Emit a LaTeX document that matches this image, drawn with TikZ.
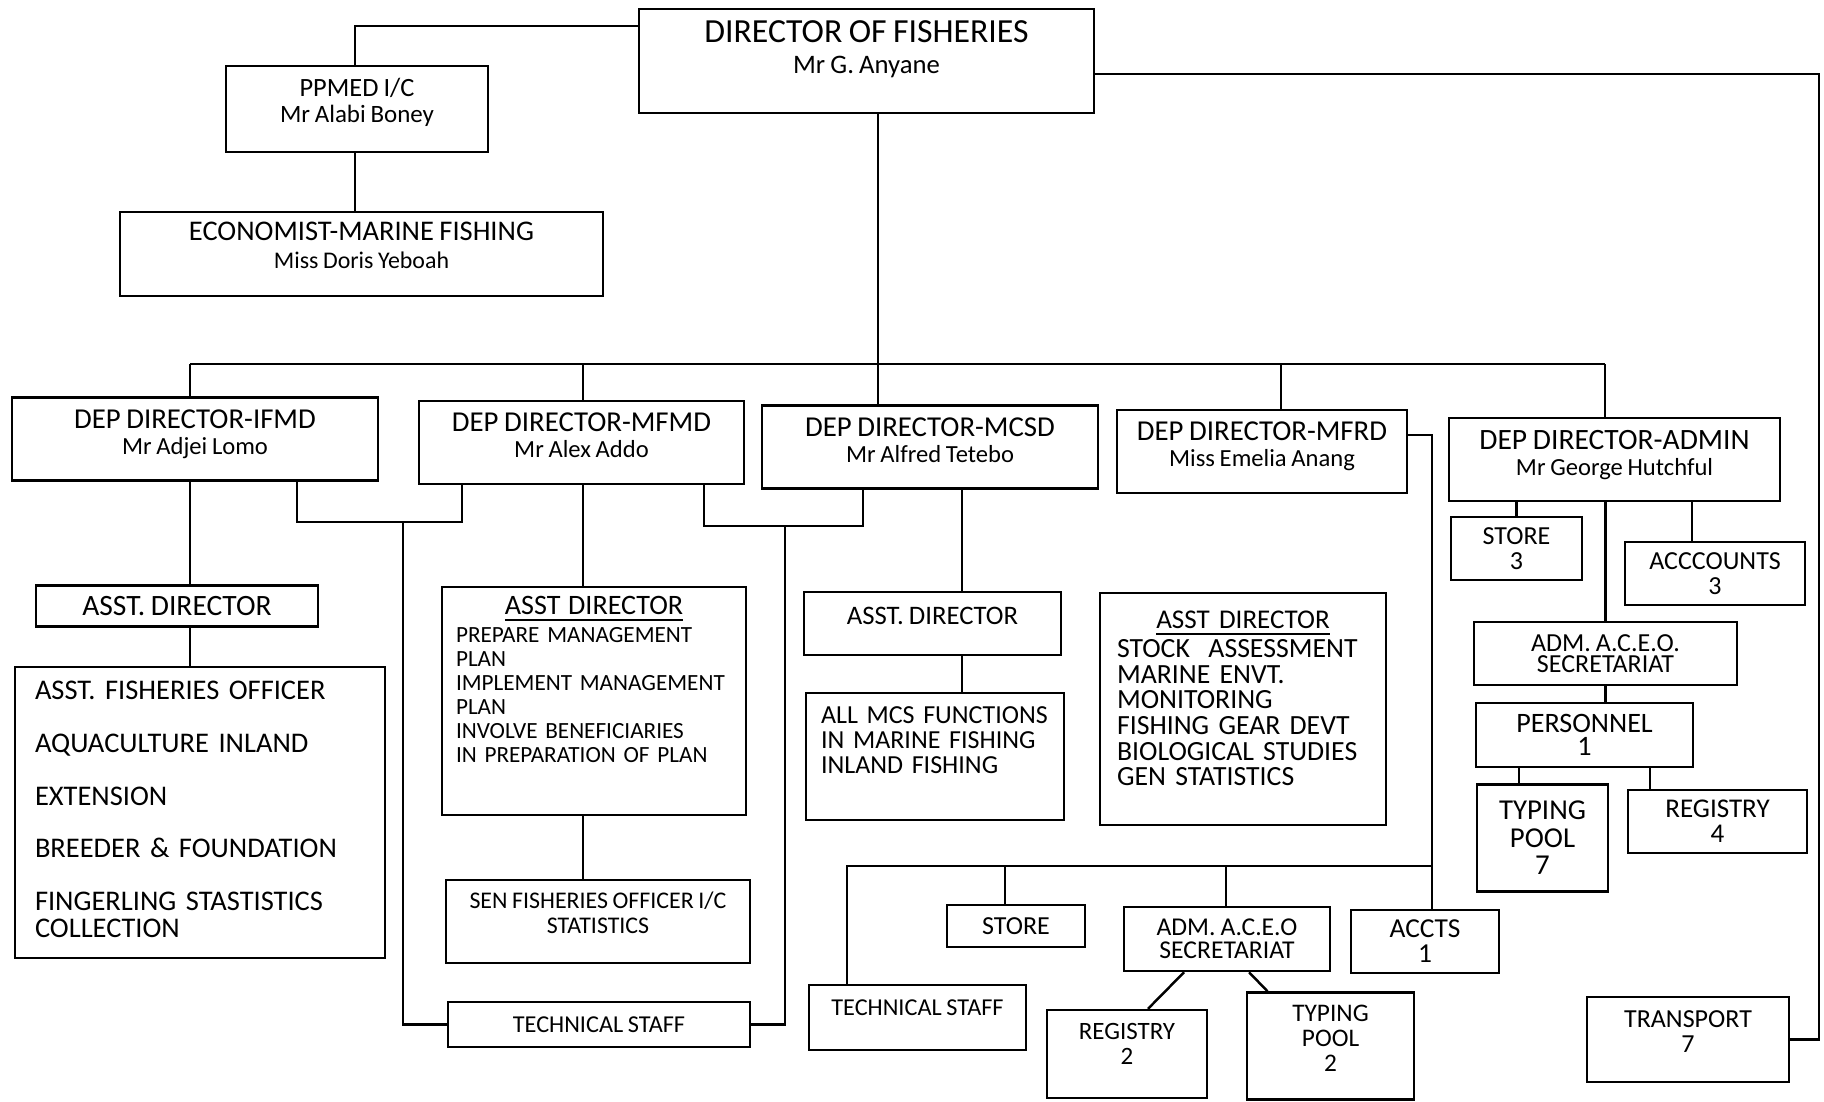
\documentclass[tikz,border=0pt]{standalone}
\usepackage{fontspec}
\setmainfont{Carlito}[WordSpace=0.85]
\newcommand{\fsz}[2]{\fontsize{#1}{#2}\selectfont}
\newcommand{\nm}[1]{{\fsz{7}{7.4}#1}}
\newcommand{\dn}[1]{\rule[-#1]{0pt}{#1}}

\begin{document}
\begin{tikzpicture}[x=0.1mm,y=-0.1mm,line width=0.7pt,
	box/.style={draw,align=center,inner sep=1pt},
	dep/.style={box,minimum height=8.3mm,font=\fsz{8.2}{7.4}},
	sm/.style={box,minimum height=6.3mm,font=\fsz{7.4}{7.1}}]
	\path[use as bounding box,line width=0pt] (0,0) rectangle (1824,1101);
	% director and staff
	\node[box,minimum width=45.5mm,minimum height=10.4mm,font=\fsz{9.6}{8.8}] (dir) at (866.5,61) {DIRECTOR OF FISHERIES\\{\fsz{7.6}{8.8}Mr G. Anyane}\dn{2.7mm}};
	\node[box,minimum width=26.2mm,minimum height=8.6mm,font=\fsz{7.5}{7.4}] (ppmed) at (357,109) {PPMED I/C\\{\fsz{7.1}{7.4}Mr Alabi Boney}\dn{1.7mm}};
	\node[box,minimum width=48.3mm,minimum height=8.4mm,font=\fsz{8.1}{7.9}] (econ) at (361.5,254) {ECONOMIST-MARINE FISHING\\{\fsz{6.8}{7.9}Miss Doris Yeboah}\dn{1.7mm}};
	% deputy directors
	\node[dep,minimum width=36.6mm] (ifmd) at (195,439) {DEP DIRECTOR-IFMD\\\nm{Mr Adjei Lomo}\dn{1.4mm}};
	\node[dep,minimum width=32.5mm] (mfmd) at (581.5,442.5) {DEP DIRECTOR-MFMD\\\nm{Mr Alex Addo}\dn{1.4mm}};
	\node[dep,minimum width=33.6mm] (mcsd) at (930,447) {DEP DIRECTOR-MCSD\\\nm{Mr Alfred Tetebo}\dn{1.4mm}};
	\node[dep,minimum width=29mm] (mfrd) at (1262,451.5) {DEP DIRECTOR-MFRD\\\nm{Miss Emelia Anang}\dn{1.4mm}};
	\node[dep,minimum width=33.1mm,font=\fsz{8.4}{7.4}] (admin) at (1614.5,459.5) {DEP DIRECTOR-ADMIN\\\nm{Mr George Hutchful}\dn{1.4mm}};
	% IFMD
	\node[box,minimum width=28.2mm,minimum height=4.1mm,font=\fsz{8.4}{8}] (ifad) at (177,606) {ASST. DIRECTOR};
	\node[box,align=left,text width=33mm,inner xsep=2mm,minimum height=29.1mm,font=\fsz{8.1}{7.5}] (iflist) at (200,812.5) {ASST. FISHERIES OFFICER\\[2.65mm] AQUACULTURE INLAND\\[2.65mm] EXTENSION\\[2.65mm] BREEDER \& FOUNDATION\\[2.65mm] FINGERLING STASTISTICS\\ COLLECTION\dn{0.7mm}};
	% MFMD
	\node[box,align=left,text width=27.6mm,inner xsep=1.4mm,minimum height=22.8mm,font=\fsz{6.6}{6.8}] (mfad) at (594,701) {\makebox[\linewidth]{\fsz{8}{6.8}\underline{ASST DIRECTOR}}\\[0.4mm] PREPARE MANAGEMENT\\ PLAN\\ IMPLEMENT MANAGEMENT\\ PLAN\\ INVOLVE BENEFICIARIES\\ IN PREPARATION OF PLAN\dn{4.3mm}};
	\node[box,minimum width=30.4mm,minimum height=8.3mm,font=\fsz{6.8}{7.1}] (senfo) at (598,921.5) {SEN FISHERIES OFFICER I/C\\STATISTICS\dn{1.8mm}};
	\node[box,minimum width=30.2mm,minimum height=4.5mm,font=\fsz{6.9}{7}] (techl) at (599,1024.5) {TECHNICAL STAFF};
	% MCSD
	\node[box,minimum width=25.7mm,minimum height=6.3mm,font=\fsz{7.6}{7}] (mcad) at (932.5,623.5) {ASST. DIRECTOR\dn{1.5mm}};
	\node[box,align=left,text width=22.8mm,inner xsep=1.5mm,minimum height=12.7mm,font=\fsz{7.4}{7.1}] (mcfn) at (935,756.5) {ALL MCS FUNCTIONS\\IN MARINE FISHING\\INLAND FISHING\dn{3.3mm}};
	% MFRD
	\node[box,align=left,text width=25.2mm,inner xsep=1.7mm,minimum height=23.2mm,font=\fsz{7.9}{7.3}] (mrad) at (1243,709) {\makebox[\linewidth]{\fsz{7.7}{7.3}\underline{ASST DIRECTOR}}\\[0.3mm]STOCK\ \ ASSESSMENT\\MARINE ENVT.\\MONITORING\\FISHING GEAR DEVT\\BIOLOGICAL STUDIES\\GEN STATISTICS\dn{2.1mm}};
	\node[box,minimum width=21.7mm,minimum height=6.5mm,font=\fsz{6.9}{7}] (techm) at (917.5,1017.5) {TECHNICAL STAFF\dn{1.9mm}};
	\node[sm,minimum width=13.8mm,minimum height=4.2mm] (storem) at (1016,926) {STORE};
	\node[sm,minimum width=20.6mm,minimum height=6.4mm,font=\fsz{7.3}{6.6}] (aceom) at (1227,939) {ADM. A.C.E.O\\SECRETARIAT};
	\node[sm,minimum width=14.8mm,font=\fsz{7.8}{7.1}] (accts) at (1425,941.5) {ACCTS\\1};
	\node[sm,minimum width=16mm,minimum height=8.8mm,font=\fsz{7.1}{7.1}] (registry2) at (1127,1054) {REGISTRY\\2\dn{2mm}};
	\node[sm,minimum width=16.7mm,minimum height=10.7mm,font=\fsz{7.2}{7.1}] (typing2) at (1330.5,1046) {TYPING\\POOL\\2\dn{1.6mm}};
	% ADMIN
	\node[sm,minimum width=13.1mm] (store3) at (1516.5,548.5) {STORE\\3};
	\node[sm,minimum width=18mm] (accounts) at (1715,573.5) {ACCCOUNTS\\3};
	\node[sm,minimum width=26.3mm,font=\fsz{7.4}{5.9}] (aceo) at (1605.5,653.5) {ADM. A.C.E.O.\\SECRETARIAT};
	\node[sm,minimum width=21.7mm,minimum height=6.4mm,font=\fsz{8}{6.6}] (personnel) at (1584.5,735) {PERSONNEL\\1};
	\node[sm,minimum width=13.1mm,minimum height=10.7mm,font=\fsz{8.2}{7.8}] (typing7) at (1542.5,838) {TYPING\\POOL\\7};
	\node[sm,minimum width=17.9mm,font=\fsz{7.7}{7.1}] (registry4) at (1717.5,821.5) {REGISTRY\\4};
	\node[sm,minimum width=20.2mm,minimum height=8.5mm] (transport) at (1688,1039.5) {TRANSPORT\\7\dn{1.5mm}};
	% main bus
	\coordinate (b1) at (190,364);
	\coordinate (b2) at (583,364);
	\coordinate (b3) at (878,364);
	\coordinate (b4) at (1281,364);
	\coordinate (b5) at (1605,364);
	\draw (b1) -- (b5);
	\draw (dir.south -| b3) -- (b3 |- mcsd.north);
	\foreach \b/\n in {b1/ifmd,b2/mfmd,b4/mfrd,b5/admin}
	\draw (\b) -- (\b |- \n.north);
	% left and right of director
	\coordinate (tl) at (355,26);
	\coordinate (tr) at (1819,74);
	\draw (dir.west |- tl) -| (ppmed.north -| tl);
	\draw (ppmed.south -| tl) -- (econ.north -| tl);
	\draw (dir.east |- tr) -- (tr) |- (transport.east);
	% IFMD
	\draw (b1 |- ifmd.south) -- (b1 |- ifad.north) (b1 |- ifad.south) -- (b1 |- iflist.north);
	% technical staff brackets
	\coordinate (k1) at (297,522); \coordinate (k2) at (462,522); \coordinate (k3) at (403,522);
	\draw (k1 |- ifmd.south) -- (k1) -- (k2) -- (k2 |- mfmd.south);
	\draw (k3) |- (techl.west);
	\coordinate (k4) at (704,526); \coordinate (k5) at (863,526); \coordinate (k6) at (785,526);
	\draw (k4 |- mfmd.south) -- (k4) -- (k5) -- (k5 |- mcsd.south);
	\draw (k6) |- (techl.east);
	% MFMD
	\draw (b2 |- mfmd.south) -- (b2 |- mfad.north) (b2 |- mfad.south) -- (b2 |- senfo.north);
	% MCSD
	\coordinate (m1) at (962,0);
	\draw (m1 |- mcsd.south) -- (m1 |- mcad.north) (m1 |- mcad.south) -- (m1 |- mcfn.north);
	% MFRD support units
	\coordinate (r1) at (1432,866); \coordinate (r2) at (847,866);
	\coordinate (s1) at (1005,866); \coordinate (s2) at (1226,866);
	\draw ([yshift=1.65mm]mfrd.east) -| (r1) -- (r1 |- accts.north);
	\draw (r1) -- (r2) -- (r2 |- techm.north);
	\draw (s1) -- (s1 |- storem.north) (s2) -- (s2 |- aceom.north);
	\draw ([xshift=-4.3mm]aceom.south) -- ([xshift=2.1mm]registry2.north);
	\draw ([xshift=2.2mm]aceom.south) -- ([xshift=-6.3mm]typing2.north);
	% ADMIN
	\draw (store3.north) -- (store3.north |- admin.south);
	\draw ([xshift=-2.3mm]accounts.north) -- ([xshift=-2.3mm]accounts.north |- admin.south);
	\draw (aceo.north) -- (aceo.north |- admin.south);
	\draw (aceo.south) -- (aceo.south |- personnel.north);
	\draw ([xshift=-2.35mm]typing7.north) -- ([xshift=-2.35mm]typing7.north |- personnel.south);
	\draw ([xshift=-6.75mm]registry4.north) -- ([xshift=-6.75mm]registry4.north |- personnel.south);
\end{tikzpicture}
\end{document}
